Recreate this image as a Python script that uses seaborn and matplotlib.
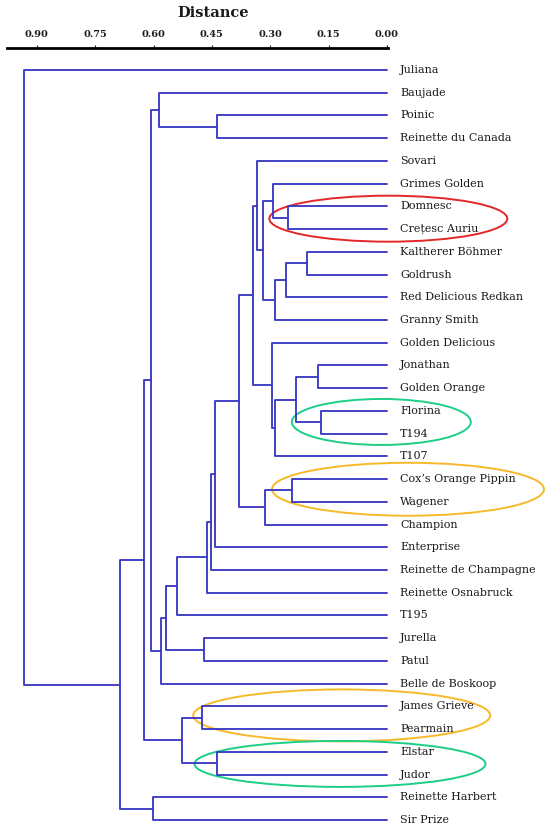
import pandas as pd
import matplotlib.pyplot as plt
import seaborn as sns
from matplotlib.patches import Ellipse


# leaf order top to bottom
leaves = ['Juliana', 'Baujade', 'Poinic', 'Reinette du Canada', 'Sovari',
          'Grimes Golden', 'Domnesc', 'Crețesc Auriu', 'Kaltherer Böhmer',
          'Goldrush', 'Red Delicious Redkan', 'Granny Smith', 'Golden Delicious',
          'Jonathan', 'Golden Orange', 'Florina', 'T194', 'T107',
          'Cox\u2019s Orange Pippin', 'Wagener', 'Champion', 'Enterprise',
          'Reinette de Champagne', 'Reinette Osnabruck', 'T195', 'Jurella',
          'Patul', 'Belle de Boskoop', 'James Grieve', 'Pearmain', 'Elstar',
          'Judor', 'Reinette Harbert', 'Sir Prize']

# merges: a leaf name or the index of an earlier merge
merge_left = ['Poinic', 'Baujade', 'Domnesc', 'Grimes Golden', 'Kaltherer Böhmer',
              4, 5, 3, 'Sovari', 'Jonathan', 'Florina', 9, 11, 'Golden Delicious',
              8, 'Cox\u2019s Orange Pippin', 15, 14, 17, 18, 19, 20, 'Jurella',
              21, 23, 1, 'James Grieve', 'Elstar', 26, 25, 'Reinette Harbert',
              29, 'Juliana']
merge_right = ['Reinette du Canada', 0, 'Crețesc Auriu', 2, 'Goldrush',
               'Red Delicious Redkan', 'Granny Smith', 6, 7, 'Golden Orange',
               'T194', 10, 'T107', 12, 13, 'Wagener', 'Champion', 16,
               'Enterprise', 'Reinette de Champagne', 'Reinette Osnabruck',
               'T195', 'Patul', 22, 'Belle de Boskoop', 24, 'Pearmain', 'Judor',
               27, 28, 'Sir Prize', 30, 31]
merge_height = [0.437, 0.587, 0.254, 0.292, 0.206, 0.259, 0.288, 0.318, 0.333,
                0.178, 0.169, 0.233, 0.288, 0.296, 0.345, 0.245, 0.313, 0.381,
                0.441, 0.452, 0.463, 0.540, 0.470, 0.568, 0.581, 0.606, 0.476,
                0.437, 0.527, 0.624, 0.601, 0.685, 0.933]

tick_vals = [0.90, 0.75, 0.60, 0.45, 0.30, 0.15, 0.00]


def pos(item, nodes):
    if isinstance(item, str):
        return 0.0, float(leaves.index(item))
    return nodes[item]


nodes = []
rows = []
for i, (a, b, h) in enumerate(zip(merge_left, merge_right, merge_height)):
    xa, ya = pos(a, nodes)
    xb, yb = pos(b, nodes)
    for k, (x, y) in enumerate([(xa, ya), (h, ya), (h, yb), (xb, yb)]):
        rows.append({'seg': i, 'order': k, 'x': x, 'y': y})
    nodes.append((h, (ya + yb) / 2))
seg_df = pd.DataFrame(rows)

sns.set_style('white')
plt.rcParams['font.family'] = ['DejaVu Serif', 'DejaVu Sans']
plt.rcParams['text.color'] = '#1a1a1a'
plt.rcParams['xtick.color'] = '#1a1a1a'

W, H = 550, 831
fig = plt.figure(figsize=(5.5, 8.31), dpi=100)
# pixel layout: d=0 at x=386.9, 389 px per unit; leaves at 70 + 22.73*i
ax_top = 48.3
ax = fig.add_axes([7 / W, 0, (388 - 7) / W, 1 - ax_top / H])
sns.lineplot(data=seg_df, x='x', y='y', units='seg', estimator=None, sort=False,
             color='#3a3ac4', lw=1.35, legend=False, ax=ax)

ax.set_xlim((386.9 - 7) / 389, (386.9 - 388) / 389)
ax.set_ylim(33 + (831 - 820) / 22.73, -(70 - ax_top) / 22.73)

ax.xaxis.tick_top()
ax.set_xticks(tick_vals)
ax.set_xticklabels(['%.2f' % v for v in tick_vals], fontsize=7, fontweight='bold')
ax.tick_params(axis='x', direction='out', length=2.5, width=0.8, pad=4)
ax.set_yticks([])
ax.set_xlabel('')
ax.set_ylabel('')
for s in ['left', 'right', 'bottom']:
    ax.spines[s].set_visible(False)
ax.spines['top'].set_linewidth(2)
ax.spines['top'].set_color('black')

for i, name in enumerate(leaves):
    ax.text((386.9 - 400) / 389, i, name, ha='left', va='center', fontsize=8,
            clip_on=False)


def px_ellipse(cx, cy, w, h, color):
    e = Ellipse(((386.9 - cx) / 389, (cy - 70) / 22.73), w / 389, h / 22.73,
                fill=False, edgecolor=color, lw=1.4, clip_on=False)
    ax.add_patch(e)


px_ellipse(388.3, 218.7, 238, 46, '#e3262a')
px_ellipse(381.3, 422, 179, 46, '#1dcf86')
px_ellipse(408, 489.3, 272, 53, '#f7b92a')
px_ellipse(341.7, 715.5, 297, 52, '#f7b92a')
px_ellipse(340, 764, 291, 46, '#1dcf86')

fig.text(213 / W, 1 - 13 / H, 'Distance', ha='center', va='center',
         fontsize=10.5, fontweight='bold')

fig.savefig('out.png', dpi=100)
